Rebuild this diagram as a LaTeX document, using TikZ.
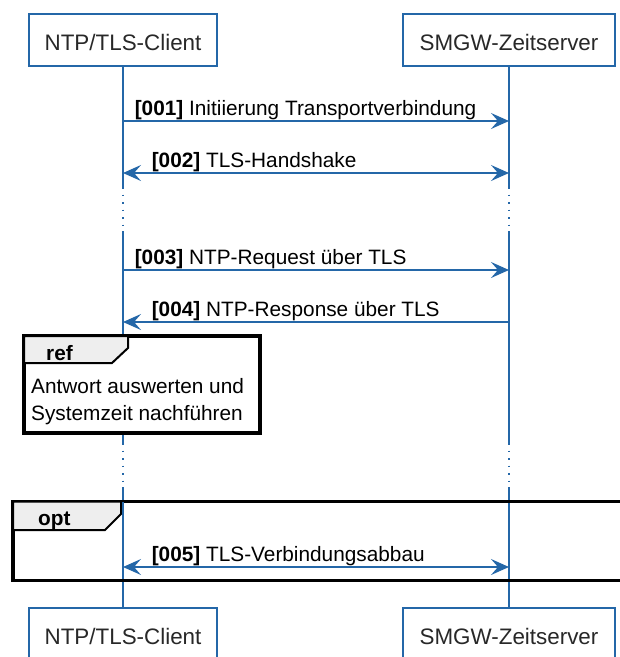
\documentclass[tikz,border=0pt]{standalone}
\usepackage{fontspec}
\setmainfont{Liberation Sans}
\usetikzlibrary{arrows.meta}
\definecolor{lifeblue}{RGB}{36,103,168}
\definecolor{tabgray}{RGB}{238,238,238}
\definecolor{parttext}{RGB}{40,40,40}
\begin{document}
\begin{tikzpicture}[x=1pt,y=-1pt,
  part/.style={draw=lifeblue, line width=1.6pt, fill=white, minimum width=#1,
    minimum height=52pt, inner sep=0pt, text height=20pt, text depth=0pt,
    font=\fontsize{22.4}{26}\selectfont, text=parttext},
  life/.style={lifeblue, line width=1.4pt},
  lifedot/.style={lifeblue, line width=1.4pt, dash pattern=on 1.5pt off 6pt},
  tip/.tip={Stealth[length=18pt,width=16pt,inset=7pt]},
  msg/.style={lifeblue, line width=1.6pt, -tip},
  msgback/.style={lifeblue, line width=1.6pt, tip-},
  msgboth/.style={lifeblue, line width=1.6pt, tip-tip},
  lbl/.style={font=\fontsize{20.8}{25}\selectfont, text=black, inner sep=0pt, anchor=base west},
  frame/.style={draw=black, line width=3.5pt},
  tabshape/.style={draw=black, line width=2pt, fill=tabgray},
  reftext/.style={font=\fontsize{20.8}{25}\selectfont, text=black, inner sep=0pt, anchor=base west},
]
\useasboundingbox (0,0) rectangle (620,657);
\clip (0,0) rectangle (620,657);

% participants
\node[part=188pt] (ct) at (123,40) {NTP/TLS-Client};
\node[part=212pt] (st) at (509,40) {SMGW-Zeitserver};
\node[part=188pt] (cb) at (123,634) {NTP/TLS-Client};
\node[part=212pt] (sb) at (509,634) {SMGW-Zeitserver};

% lifeline break points
\coordinate (ca) at (123,187); \coordinate (cbk) at (123,231);
\coordinate (cc) at (123,443); \coordinate (cd) at (123,487);
\coordinate (sa) at (509,187); \coordinate (sbk) at (509,231);
\coordinate (sc) at (509,443); \coordinate (sd) at (509,487);

\draw[life] (ct.south) -- (ca);
\draw[lifedot] (ca) -- (cbk);
\draw[life] (cbk) -- (cc);
\draw[lifedot] (cc) -- (cd);
\draw[life] (cd) -- (cb.north);
\draw[life] (st.south) -- (sa);
\draw[lifedot] (sa) -- (sbk);
\draw[life] (sbk) -- (sc);
\draw[lifedot] (sc) -- (sd);
\draw[life] (sd) -- (sb.north);

% opt frame
\draw[frame] (13,501.5) rectangle (640,580.5);
\draw[tabshape] (13,501.5) -- (121,501.5) -- (121,514) -- (105,530) -- (13,530) -- cycle;
\node[reftext, font=\bfseries\fontsize{20.8}{25}\selectfont] (optl) at (38,525) {opt};
\draw[life] (123,501.5) -- (123,530);

% message endpoints
\coordinate (c1) at (123,121); \coordinate (s1) at (509,121);
\coordinate (c2) at (123,173); \coordinate (s2) at (509,173);
\coordinate (c3) at (123,270); \coordinate (s3) at (509,270);
\coordinate (c4) at (123,322); \coordinate (s4) at (509,322);
\coordinate (c5) at (123,567); \coordinate (s5) at (509,567);

\draw[msg] (c1) -- (s1) node[lbl, pos=0, xshift=11pt, yshift=6pt] (l1) {\textbf{[001]} Initiierung Transportverbindung};
\draw[msgboth] (c2) -- (s2) node[lbl, pos=0, xshift=28pt, yshift=6pt] (l2) {\textbf{[002]} TLS-Handshake};
\draw[msg] (c3) -- (s3) node[lbl, pos=0, xshift=11pt, yshift=6pt] (l3) {\textbf{[003]} NTP-Request über TLS};
\draw[msgback] (c4) -- (s4) node[lbl, pos=0, xshift=28pt, yshift=6pt] (l4) {\textbf{[004]} NTP-Response über TLS};
\draw[msgboth] (c5) -- (s5) node[lbl, pos=0, xshift=28pt, yshift=6pt] (l5) {\textbf{[005]} TLS-Verbindungsabbau};

% ref frame
\draw[frame, fill=white] (24,336) rectangle (260,433);
\draw[tabshape] (24,336) -- (128,336) -- (128,348) -- (112,363) -- (24,363) -- cycle;
\node[reftext, font=\bfseries\fontsize{20.8}{25}\selectfont] (refl) at (46,360) {ref};
\node[reftext] (r1) at (31,393) {Antwort auswerten und};
\node[reftext] (r2) at (31,420) {Systemzeit nachführen};
\end{tikzpicture}
\end{document}
